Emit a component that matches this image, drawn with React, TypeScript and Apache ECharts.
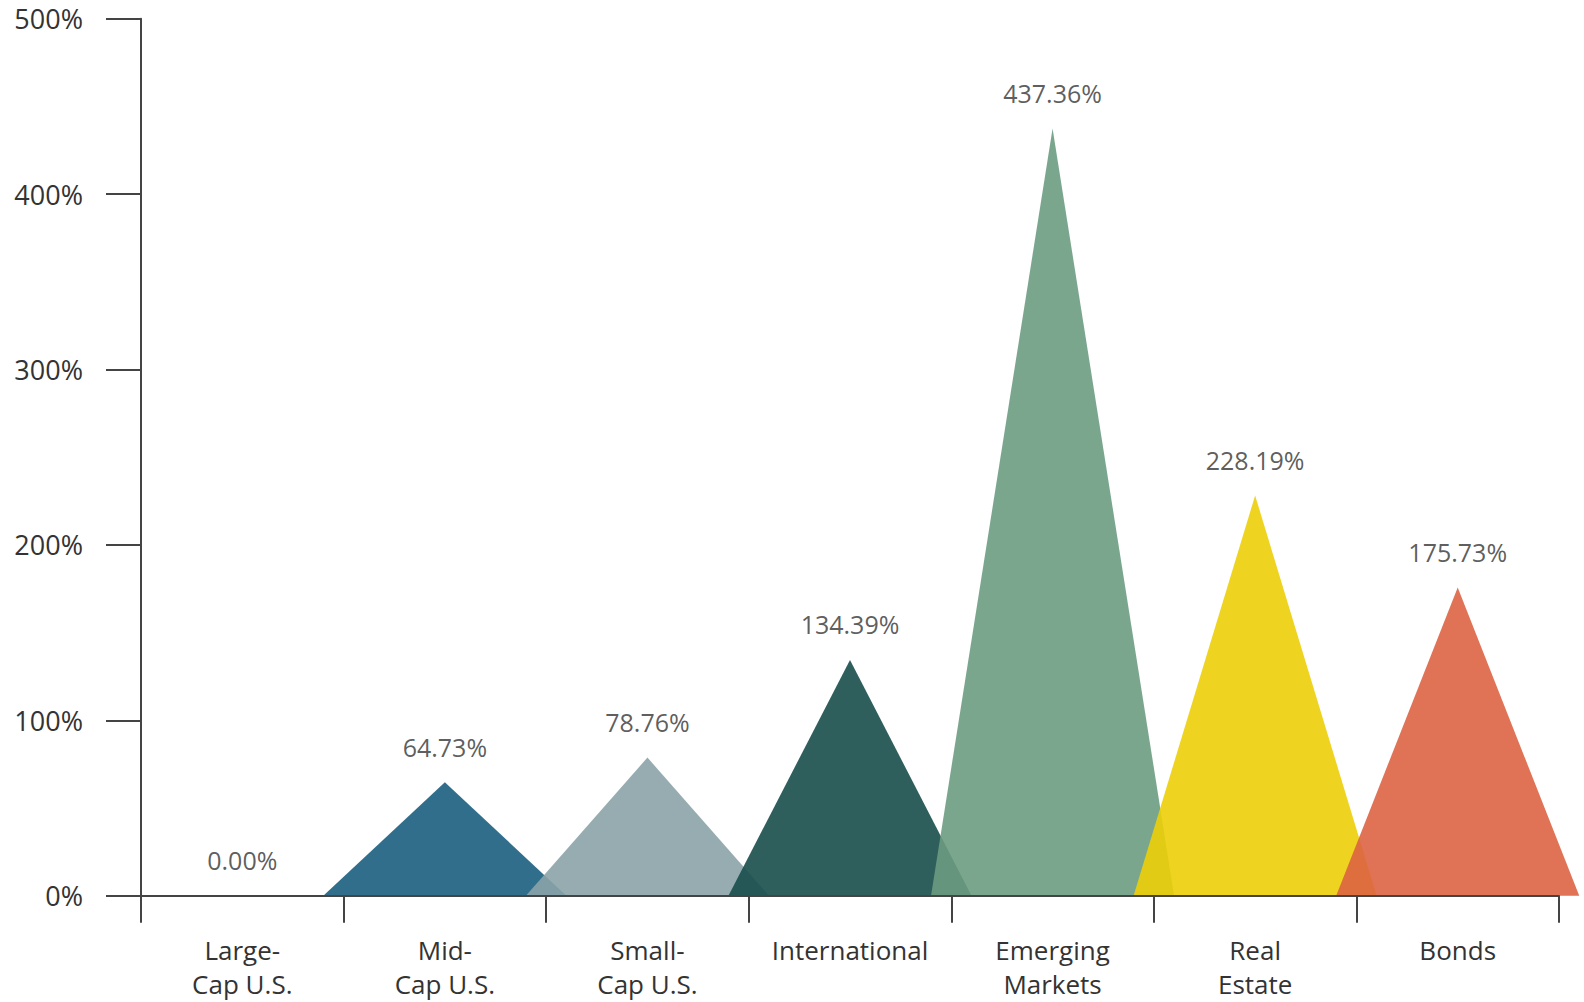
import React, { useEffect, useRef } from "react";
import * as echarts from "echarts";

const categories = [
  "Large-\nCap U.S.",
  "Mid-\nCap U.S.",
  "Small-\nCap U.S.",
  "International",
  "Emerging\nMarkets",
  "Real\nEstate",
  "Bonds",
];
const returns = [0.0, 64.73, 78.76, 134.39, 437.36, 228.19, 175.73];
const colors = ["#1b5e7f", "#1b5e7f", "#8ba3a9", "#174e4b", "#6c9c81", "#eccf08", "#dd6343"];
const yTicks = [0, 100, 200, 300, 400, 500];

const FONT = "'Open Sans', Lato, sans-serif";
const TEXT = "#333333";
const AXIS = "#444444";

export default function App() {
  const ref = useRef<HTMLDivElement>(null);
  useEffect(() => {
    if (!ref.current) return;
    const chart = echarts.init(ref.current, undefined, { renderer: "svg" });
    chart.setOption({
      animation: false,
      backgroundColor: "#ffffff",
      grid: {
        left: 141,
        right: 25,
        top: 18.7,
        bottom: 106.3,
        containLabel: false,
        outerBoundsMode: "none",
      },
      xAxis: {
        type: "category",
        data: categories,
        boundaryGap: true,
        z: 10,
        axisLine: { show: true, lineStyle: { color: AXIS, width: 2 } },
        axisTick: { show: true, length: 27, lineStyle: { color: AXIS, width: 2 } },
        axisLabel: {
          interval: 0,
          margin: 37,
          fontFamily: FONT,
          fontSize: 26,
          lineHeight: 34,
          color: TEXT,
        },
      },
      yAxis: {
        type: "value",
        min: 0,
        max: 500,
        interval: 100,
        z: 10,
        axisLine: { show: true, lineStyle: { color: AXIS, width: 2 } },
        axisTick: { show: true, length: 35, lineStyle: { color: AXIS, width: 2 } },
        splitLine: { show: false },
        axisLabel: {
          margin: 58,
          fontFamily: FONT,
          fontSize: 27,
          color: TEXT,
          formatter: (v: number) => (yTicks.includes(v) ? v + "%" : ""),
        },
      },
      series: [
        {
          type: "custom",
          clip: false,
          data: returns.map((v, i) => [i, v]),
          encode: { x: 0, y: 1 },
          renderItem: (params: any, api: any) => {
            const idx = api.value(0);
            const v = api.value(1);
            const top = api.coord([idx, v]);
            const base = api.coord([idx, 0]);
            const hw = api.size([1, 0])[0] * 0.6;
            return {
              type: "polygon",
              shape: {
                points: [
                  [top[0] - hw, base[1]],
                  [top[0], top[1]],
                  [top[0] + hw, base[1]],
                ],
              },
              style: { fill: colors[idx], opacity: 0.9 },
            };
          },
        },
        {
          type: "scatter",
          symbolSize: 0,
          data: returns,
          silent: true,
          label: {
            show: true,
            position: "top",
            distance: 23,
            fontFamily: FONT,
            fontSize: 25,
            color: TEXT,
            formatter: (p: any) => p.value.toFixed(2) + "%",
          },
        },
      ],
    });
    return () => chart.dispose();
  }, []);
  return (
    <div
      ref={ref}
      style={{ position: "fixed", left: 0, top: 0, width: 1584, height: 1002 }}
    />
  );
}
